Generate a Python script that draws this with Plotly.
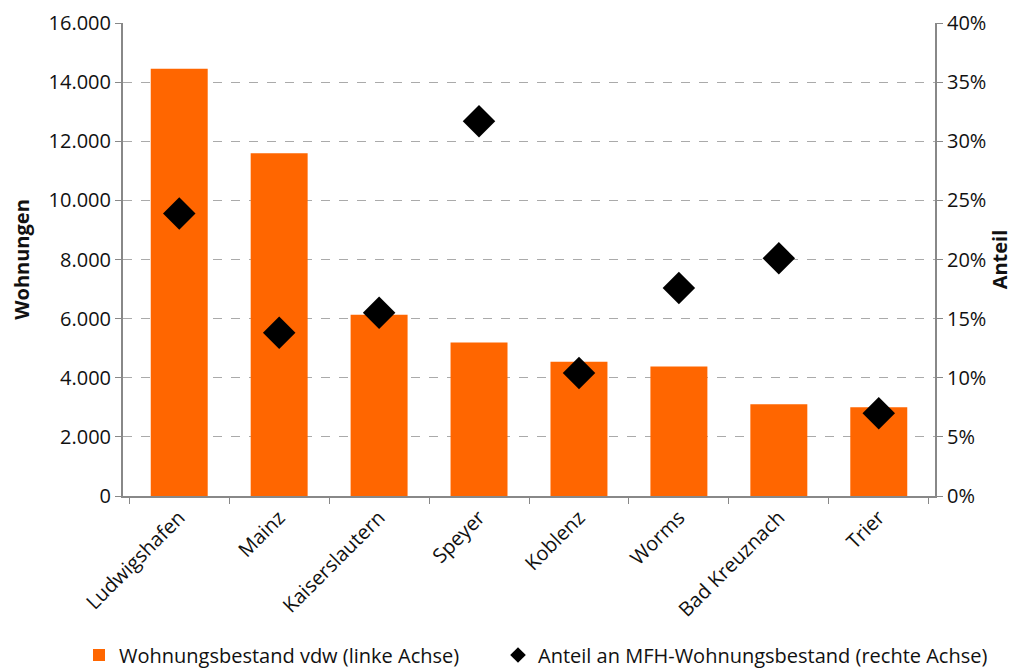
import plotly.graph_objects as go

categories = ["Ludwigshafen", "Mainz", "Kaiserslautern", "Speyer", "Koblenz", "Worms", "Bad Kreuznach", "Trier"]
wohnungen = [14450, 11590, 6130, 5190, 4540, 4380, 3100, 3000]
anteil = [0.239, 0.138, 0.155, 0.317, 0.104, 0.176, 0.201, 0.070]

left_ticks = [0, 2000, 4000, 6000, 8000, 10000, 12000, 14000, 16000]
left_labels = ["0", "2.000", "4.000", "6.000", "8.000", "10.000", "12.000", "14.000", "16.000"]
right_ticks = [0, 0.05, 0.10, 0.15, 0.20, 0.25, 0.30, 0.35, 0.40]
right_labels = ["0%", "5%", "10%", "15%", "20%", "25%", "30%", "35%", "40%"]

FONT = "Open Sans"
W, H = 1017, 660
fig = go.Figure()
fig.add_trace(go.Bar(x=categories, y=wohnungen, name="Wohnungsbestand vdw (linke Achse)",
                     marker=dict(color="#FF6600", line=dict(width=0)), yaxis="y", legend="legend"))
fig.add_trace(go.Scatter(x=categories, y=anteil, name="Anteil an MFH-Wohnungsbestand (rechte Achse)",
                         mode="markers", marker=dict(symbol="diamond", size=25, color="black"),
                         yaxis="y2", legend="legend2"))

leg_common = dict(orientation="h", xref="container", yref="container", yanchor="middle",
                  font=dict(size=20), itemsizing="constant", itemwidth=30, bgcolor="rgba(0,0,0,0)")

fig.update_layout(
    width=W, height=H,
    margin=dict(l=115, r=90, t=15, b=172, autoexpand=False),
    paper_bgcolor="white", plot_bgcolor="white",
    font=dict(family=FONT, size=20, color="#111111"),
    bargap=0.43,
    showlegend=True,
    legend=dict(x=71 / W, xanchor="left", y=1 - 647 / H, **leg_common),
    legend2=dict(x=490 / W, xanchor="left", y=1 - 647 / H, **leg_common),
    xaxis=dict(tickangle=-45, showline=True, linecolor="#888888", linewidth=2,
               ticks="outside", ticklen=6, tickcolor="#888888", tickson="boundaries",
               showgrid=False, tickfont=dict(size=20), automargin=False),
    yaxis=dict(range=[0, 16000], tickvals=left_ticks, ticktext=left_labels,
               showline=True, linecolor="#888888", linewidth=2,
               ticks="outside", ticklen=6, tickcolor="#888888",
               showgrid=True, gridcolor="#AAAAAA", griddash="dash", gridwidth=1,
               zeroline=False, automargin=False, tickfont=dict(size=20),
               ticklabeloverflow="allow",
               title=dict(text="<b>Wohnungen</b>", font=dict(size=20), standoff=16)),
    yaxis2=dict(range=[0, 0.40], tickvals=right_ticks, ticktext=right_labels,
                overlaying="y", side="right",
                showline=True, linecolor="#888888", linewidth=2,
                ticks="outside", ticklen=6, tickcolor="#888888",
                showgrid=False, zeroline=False, automargin=False, tickfont=dict(size=20),
                ticklabeloverflow="allow",
                title=dict(text="<b>Anteil</b>", font=dict(size=20), standoff=6)),
)

fig.write_html("out.html")
